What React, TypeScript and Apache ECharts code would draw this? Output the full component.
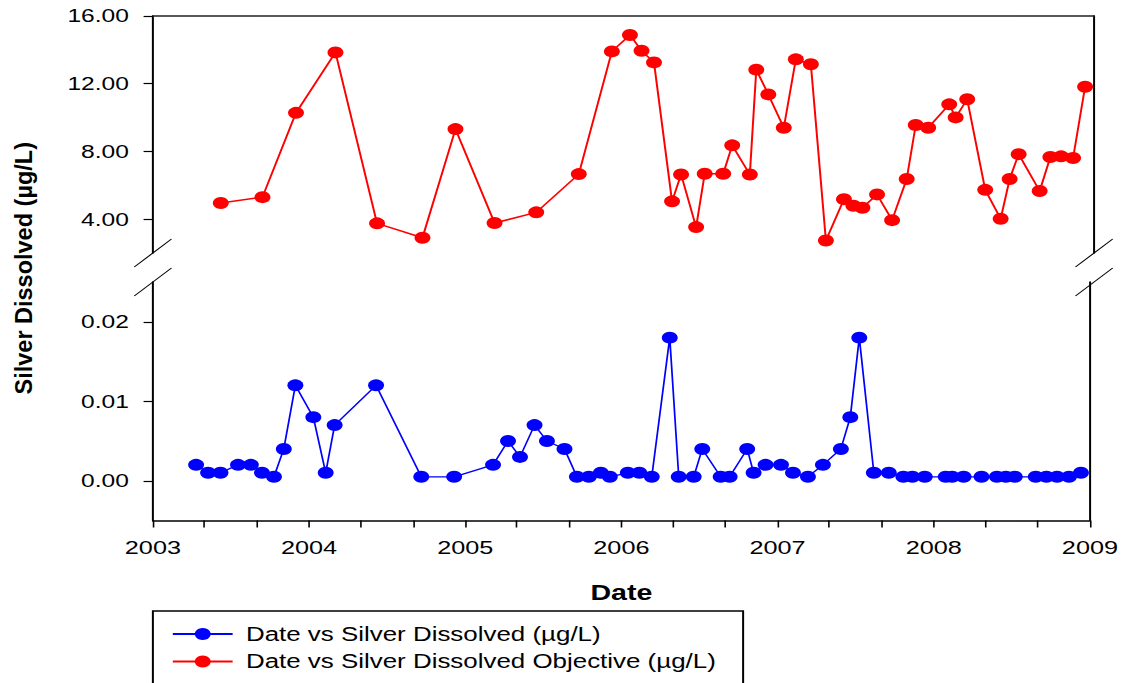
import React, { useEffect, useRef } from 'react';
import * as echarts from 'echarts';

// ---------------- data ----------------
const redDates = [
  '2003-06-08', '2003-09-13', '2003-11-30',
  '2004-03-01', '2004-06-06', '2004-09-20', '2004-12-06',
  '2005-03-07', '2005-06-12', '2005-09-19', '2005-12-05',
  '2006-01-16', '2006-02-12', '2006-03-13', '2006-04-24', '2006-05-15', '2006-06-19',
  '2006-07-09', '2006-08-21', '2006-09-11', '2006-10-22', '2006-11-06', '2006-12-04',
  '2007-01-09', '2007-02-06', '2007-03-13', '2007-04-17', '2007-05-29', '2007-06-20',
  '2007-07-11', '2007-08-14', '2007-09-18', '2007-10-22', '2007-11-12', '2007-12-11',
  '2008-01-29', '2008-02-13', '2008-03-11', '2008-04-22', '2008-05-28', '2008-06-18',
  '2008-07-09', '2008-08-27', '2008-09-21', '2008-10-16', '2008-11-13', '2008-12-11',
];
const redValues = [
  4.95, 5.30, 10.28,
  13.85, 3.75, 2.90, 9.32,
  3.77, 4.40, 6.66, 13.91,
  14.88, 13.95, 13.26, 5.05, 6.64, 3.53,
  6.68, 6.68, 8.36, 6.64, 12.83, 11.37,
  9.40, 13.44, 13.15, 2.74, 5.18, 4.79,
  4.67, 5.46, 3.94, 6.37, 9.56, 9.40,
  10.78, 10.01, 11.08, 5.73, 4.02, 6.37,
  7.84, 5.66, 7.67, 7.71, 7.61, 11.82,
];
const blueDates = [
  '2003-04-12', '2003-05-10', '2003-06-08', '2003-07-19', '2003-08-18', '2003-09-13',
  '2003-10-11', '2003-11-03', '2003-11-30',
  '2004-01-11', '2004-02-09', '2004-03-01', '2004-06-06', '2004-09-20', '2004-12-06',
  '2005-03-07', '2005-04-11', '2005-05-09', '2005-06-12', '2005-07-11', '2005-08-21',
  '2005-09-19', '2005-10-17', '2005-11-14', '2005-12-05',
  '2006-01-16', '2006-02-12', '2006-03-13', '2006-04-24', '2006-05-15', '2006-06-19',
  '2006-07-09', '2006-08-21', '2006-09-11', '2006-10-22', '2006-11-06', '2006-12-04',
  '2007-01-09', '2007-02-06', '2007-03-13', '2007-04-17', '2007-05-29', '2007-06-20',
  '2007-07-11', '2007-08-14', '2007-09-18', '2007-10-22', '2007-11-12', '2007-12-11',
  '2008-01-29', '2008-02-13', '2008-03-11', '2008-04-22', '2008-05-28', '2008-06-18',
  '2008-07-09', '2008-08-27', '2008-09-21', '2008-10-16', '2008-11-13', '2008-12-11',
];
const blueValues = [
  0.002, 0.001, 0.001, 0.002, 0.002, 0.001,
  0.0005, 0.004, 0.012,
  0.008, 0.001, 0.007, 0.012, 0.0005, 0.0005,
  0.002, 0.005, 0.003, 0.007, 0.005, 0.004,
  0.0005, 0.0005, 0.001, 0.0005,
  0.001, 0.001, 0.0005, 0.018, 0.0005, 0.0005,
  0.004, 0.0005, 0.0005, 0.004, 0.001, 0.002,
  0.002, 0.001, 0.0005, 0.002, 0.004, 0.008,
  0.018, 0.001, 0.001, 0.0005, 0.0005, 0.0005,
  0.0005, 0.0005, 0.0005, 0.0005, 0.0005, 0.0005,
  0.0005, 0.0005, 0.0005, 0.0005, 0.0005, 0.001,
];
const yearTicks = [2003, 2004, 2005, 2006, 2007, 2008, 2009];
const minorTickMonths = ['01', '05', '09'];
const topYTicks = [4, 8, 12, 16];
const bottomYTicks = [0, 0.01, 0.02];
const seriesNames = [
  'Date vs Silver Dissolved (µg/L)',
  'Date vs Silver Dissolved Objective (µg/L)',
];
const yTitle = 'Silver Dissolved (µg/L)';
const xTitle = 'Date';

// ---------------- layout ----------------
const PAGE_W = 1122;
const H = 683;
const W = 844; // drawn width, stretched horizontally to the page width
const SX = PAGE_W / W;
const GRID_LEFT = 115;
const GRID_RIGHT = 21;
const TOP_TOP = 16;
const TOP_H = 237;
const BOT_TOP = 282;
const BOT_H = 238.5;
const LEGEND_BOX = { x: 115, y: 611, w: 444, h: 120 };
const FONT = "'Liberation Sans', Arial, sans-serif";

// date string -> decimal year (position on a continuous year axis)
const toYear = (s: string) => {
  const [y, m, d] = s.split('-').map(Number);
  const start = Date.UTC(y, 0, 1);
  const end = Date.UTC(y + 1, 0, 1);
  return y + (Date.UTC(y, m - 1, d) - start) / (end - start);
};

export default function App() {
  const ref = useRef<HTMLDivElement>(null);

  useEffect(() => {
    if (!ref.current) return;
    const chart = echarts.init(ref.current, undefined, { renderer: 'svg' });

    const xMin = yearTicks[0];
    const xMax = yearTicks[yearTicks.length - 1];
    const tickVals: number[] = [];
    yearTicks.forEach((y, i) => {
      if (i < yearTicks.length - 1) {
        minorTickMonths.forEach((m) => tickVals.push(toYear(`${y}-${m}-01`)));
      } else {
        tickVals.push(y);
      }
    });

    const axisLine = { show: true, onZero: false, lineStyle: { color: '#000', width: 1.5 } };
    const tickStyle = { show: true, inside: false, length: 7, lineStyle: { color: '#000', width: 1.2 } };
    const labelStyle = { color: '#000', fontSize: 18.5, fontFamily: FONT };

    const leftX = GRID_LEFT;
    const rightX = W - GRID_RIGHT;
    const topEnd = TOP_TOP + TOP_H;
    const botStart = BOT_TOP;
    const slash = (cx: number, cy: number) => ({
      type: 'line',
      shape: { x1: cx - 14, y1: cy + 14, x2: cx + 14, y2: cy - 14 },
      style: { stroke: '#000', lineWidth: 1 },
      z: 10,
    });

    chart.setOption({
      animation: false,
      backgroundColor: '#fff',
      grid: [
        { left: GRID_LEFT, right: GRID_RIGHT, top: TOP_TOP, height: TOP_H },
        { left: GRID_LEFT, right: GRID_RIGHT, top: BOT_TOP, height: BOT_H },
      ],
      xAxis: [
        {
          type: 'value', gridIndex: 0, position: 'top', min: xMin, max: xMax, interval: 1,
          axisLine: { show: true, onZero: false, lineStyle: { color: '#222', width: 1.5 } },
          axisTick: { show: false }, axisLabel: { show: false }, splitLine: { show: false },
        },
        {
          type: 'value', gridIndex: 1, position: 'bottom', min: xMin, max: xMax, interval: 1,
          axisLine,
          axisTick: { ...tickStyle, customValues: tickVals },
          axisLabel: {
            ...labelStyle, fontSize: 19, margin: 18, customValues: yearTicks,
            formatter: (v: number) => String(Math.round(v)),
          },
          splitLine: { show: false },
          name: xTitle, nameLocation: 'middle', nameGap: 61,
          nameTextStyle: { color: '#000', fontSize: 21.5, fontWeight: 'bold', fontFamily: FONT },
        },
      ],
      yAxis: [
        {
          type: 'value', gridIndex: 0, position: 'left', min: 2, max: 16,
          axisLine, axisTick: { ...tickStyle, customValues: topYTicks },
          axisLabel: { ...labelStyle, margin: 18, customValues: topYTicks, formatter: (v: number) => v.toFixed(2) },
          splitLine: { show: false },
        },
        {
          type: 'value', gridIndex: 0, position: 'right', min: 0, max: 1,
          axisLine, axisTick: { show: false }, axisLabel: { show: false }, splitLine: { show: false },
        },
        {
          type: 'value', gridIndex: 1, position: 'left', min: -0.005, max: 0.025,
          axisLine, axisTick: { ...tickStyle, customValues: bottomYTicks },
          axisLabel: { ...labelStyle, margin: 18, customValues: bottomYTicks, formatter: (v: number) => v.toFixed(2) },
          splitLine: { show: false },
        },
        {
          type: 'value', gridIndex: 1, position: 'right', min: 0, max: 1,
          axisLine, axisTick: { show: false }, axisLabel: { show: false }, splitLine: { show: false },
        },
      ],
      legend: {
        orient: 'vertical', left: LEGEND_BOX.x + 14, top: LEGEND_BOX.y + 13,
        padding: 0,
        itemWidth: 45, itemHeight: 15, itemGap: 7.5,
        textStyle: { color: '#000', fontSize: 19.5, fontFamily: FONT, padding: [0, 0, 0, 5] },
        data: seriesNames,
      },
      series: [
        {
          name: seriesNames[0], type: 'line', xAxisIndex: 1, yAxisIndex: 2,
          data: blueDates.map((d, i) => [toYear(d), blueValues[i]]),
          symbol: 'circle', symbolSize: 12,
          lineStyle: { color: '#0000ff', width: 1.3 },
          itemStyle: { color: '#0000ff' },
          z: 3,
        },
        {
          name: seriesNames[1], type: 'line', xAxisIndex: 0, yAxisIndex: 0,
          data: redDates.map((d, i) => [toYear(d), redValues[i]]),
          symbol: 'circle', symbolSize: 12,
          lineStyle: { color: '#ff0000', width: 1.5 },
          itemStyle: { color: '#ff0000' },
          z: 3,
        },
      ],
      graphic: [
        {
          type: 'text', x: 18, y: (TOP_TOP + BOT_TOP + BOT_H) / 2, rotation: Math.PI / 2,
          scaleY: 1 / SX,
          style: {
            text: yTitle, fill: '#000', fontSize: 23.5, fontWeight: 'bold', fontFamily: FONT,
            align: 'center', verticalAlign: 'middle',
          },
        },
        {
          type: 'rect',
          shape: { x: LEGEND_BOX.x, y: LEGEND_BOX.y, width: LEGEND_BOX.w, height: LEGEND_BOX.h },
          style: { fill: 'none', stroke: '#000', lineWidth: 1.5 },
          z: 1,
        },
        slash(leftX, topEnd),
        slash(leftX, botStart),
        slash(rightX, topEnd),
        slash(rightX, botStart),
      ],
    });

    return () => chart.dispose();
  }, []);

  return (
    <div style={{ position: 'fixed', left: 0, top: 0, width: PAGE_W, height: H, overflow: 'hidden', background: '#fff' }}>
      <div
        ref={ref}
        style={{ width: W, height: H, transform: `scaleX(${SX})`, transformOrigin: '0 0' }}
      />
    </div>
  );
}
